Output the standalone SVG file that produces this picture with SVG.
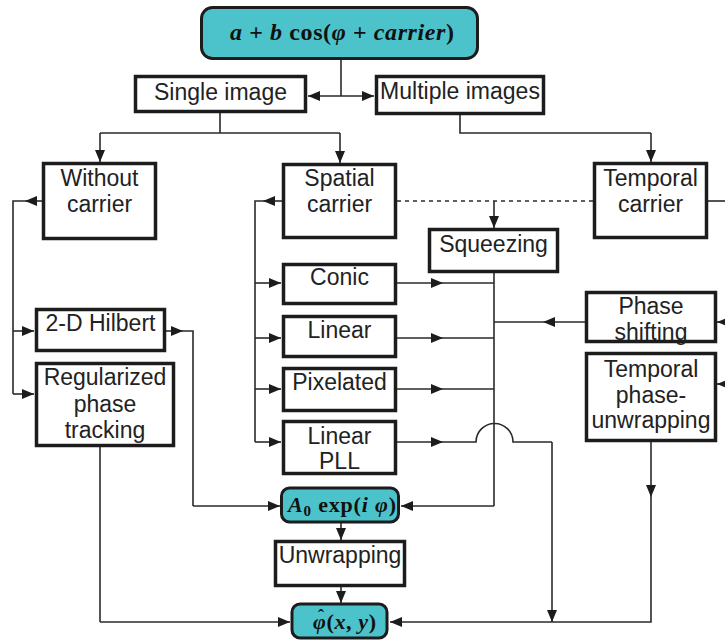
<svg xmlns="http://www.w3.org/2000/svg" width="725" height="641" viewBox="0 0 725 641">
<style>
.box{fill:#fff;stroke:#1c1c1c;stroke-width:3.5}
.tbox{fill:#4cc2ca;stroke:#1c1c1c;stroke-width:3}
.t{font-family:"Liberation Sans",Arial,sans-serif;font-size:23px;fill:#222;text-anchor:middle}
.m{font-family:"Liberation Serif","Times New Roman",serif;font-weight:bold;fill:#111;text-anchor:middle}
.i{font-style:italic}
.ln{fill:none;stroke:#2a2a2a;stroke-width:1.6}
.a{fill:none;stroke:#2a2a2a;stroke-width:1.6;marker-end:url(#ah)}
.dot{fill:none;stroke:#2a2a2a;stroke-width:1.6;stroke-dasharray:4 4}
</style>
<defs>
<marker id="ah" markerUnits="userSpaceOnUse" markerWidth="12" markerHeight="10" refX="12" refY="5" orient="auto">
<path d="M0,0 L12,5 L0,10 z" fill="#1c1c1c"/>
</marker>
</defs>
<rect width="725" height="641" fill="#fff"/>

<g id="connectors">
<path class="ln" d="M341,60 V96"/>
<path class="a" d="M341,96 H308"/>
<path class="a" d="M341,96 H374"/>
<path class="ln" d="M220,113 V133 M100,133 H340"/>
<path class="a" d="M100,133 V162"/>
<path class="a" d="M340,133 V163"/>
<path class="ln" d="M460,115 V133 H651"/>
<path class="a" d="M651,133 V162"/>
<path class="a" d="M42,201 H25"/>
<path class="ln" d="M25,201 H13 V394"/>
<path class="a" d="M13,331 H34"/>
<path class="a" d="M13,394 H34"/>
<path class="a" d="M166,331 H183"/>
<path class="ln" d="M183,331 H193 V506"/>
<path class="a" d="M193,506 H280"/>
<path class="ln" d="M100,447 V622"/>
<path class="a" d="M100,622 H290"/>
<path class="a" d="M282,201 H263"/>
<path class="ln" d="M263,201 H255 V442"/>
<path class="a" d="M255,283 H281"/>
<path class="a" d="M255,338 H281"/>
<path class="a" d="M255,389 H281"/>
<path class="a" d="M255,442 H281"/>
<path class="a" d="M397,283 H443"/>
<path class="ln" d="M443,283 H494"/>
<path class="a" d="M397,338 H443"/>
<path class="ln" d="M443,338 H494"/>
<path class="a" d="M397,389 H443"/>
<path class="ln" d="M443,389 H494"/>
<path class="a" d="M397,442 H443"/>
<path class="ln" d="M443,442 H476 A18.5,18.5 0 0 1 513,442 H552"/>
<path class="a" d="M552,442 V622"/>
<path class="dot" d="M397,201 H593"/>
<path class="a" d="M494,201 V228"/>
<path class="ln" d="M494,273 V506"/>
<path class="a" d="M494,506 H401"/>
<path class="a" d="M585,322 H543"/>
<path class="ln" d="M543,322 H494"/>
<path class="ln" d="M708,201 H726"/>
<path class="a" d="M730,322 H717"/>
<path class="a" d="M730,384 H717"/>
<path class="a" d="M651,442 V497"/>
<path class="ln" d="M651,497 V622 H552"/>
<path class="a" d="M552,622 H390"/>
<path class="a" d="M341,523 V540"/>
<path class="a" d="M341,587 V603"/>
</g>

<g id="n-top"><rect class="tbox" x="201.5" y="7.5" width="276" height="51" rx="11"/>
<text class="m" x="342" y="40" font-size="24" textLength="224" lengthAdjust="spacing"><tspan class="i">a</tspan> + <tspan class="i">b</tspan> cos(<tspan class="i">φ</tspan> + <tspan class="i">carrier</tspan>)</text></g>
<g id="n-single"><rect class="box" x="135.5" y="76.5" width="170" height="35"/><text class="t" x="220.5" y="100">Single image</text></g>
<g id="n-multiple"><rect class="box" x="376.5" y="76.5" width="167" height="37"/><text class="t" x="460" y="99">Multiple images</text></g>
<g id="n-without"><rect class="box" x="43.5" y="163.5" width="112" height="75"/><text class="t" x="99.5" y="186">Without</text><text class="t" x="99.5" y="212">carrier</text></g>
<g id="n-spatial"><rect class="box" x="283.5" y="164.5" width="112" height="73"/><text class="t" x="339.5" y="186">Spatial</text><text class="t" x="339.5" y="212">carrier</text></g>
<g id="n-temporal"><rect class="box" x="594.5" y="163.5" width="112" height="74"/><text class="t" x="650.5" y="186">Temporal</text><text class="t" x="650.5" y="212">carrier</text></g>
<g id="n-squeezing"><rect class="box" x="429.5" y="229.5" width="128" height="42"/><text class="t" x="493.5" y="252">Squeezing</text></g>
<g id="n-conic"><rect class="box" x="283.5" y="264.5" width="112" height="39"/><text class="t" x="339.5" y="285">Conic</text></g>
<g id="n-linear"><rect class="box" x="283.5" y="316.5" width="112" height="40"/><text class="t" x="339.5" y="338">Linear</text></g>
<g id="n-pixelated"><rect class="box" x="283.5" y="368.5" width="112" height="42"/><text class="t" x="339.5" y="390">Pixelated</text></g>
<g id="n-linearpll"><rect class="box" x="283.5" y="421.5" width="112" height="52"/><text class="t" x="339.5" y="444">Linear</text><text class="t" x="339.5" y="469">PLL</text></g>
<g id="n-hilbert"><rect class="box" x="36.5" y="309.5" width="128" height="41"/><text class="t" x="100.5" y="331">2-D Hilbert</text></g>
<g id="n-regularized"><rect class="box" x="36.5" y="363.5" width="137" height="82"/><text class="t" x="105" y="385">Regularized</text><text class="t" x="105" y="412">phase</text><text class="t" x="105" y="438">tracking</text></g>
<g id="n-phaseshift"><rect class="box" x="586.5" y="292.5" width="129" height="49"/><text class="t" x="651" y="314">Phase</text><text class="t" x="651" y="340">shifting</text></g>
<g id="n-tpu"><rect class="box" x="586.5" y="353.5" width="129" height="87"/><text class="t" x="651" y="377">Temporal</text><text class="t" x="651" y="403">phase-</text><text class="t" x="651" y="428">unwrapping</text></g>
<g id="n-a0"><rect class="tbox" x="281.5" y="488" width="117" height="34" rx="8"/>
<text class="m" x="342" y="512" font-size="22" textLength="108" lengthAdjust="spacing"><tspan class="i">A</tspan><tspan font-size="15" dy="4">0</tspan><tspan dy="-4"> exp(</tspan><tspan class="i">i φ</tspan>)</text></g>
<g id="n-unwrapping"><rect class="box" x="275.5" y="541.5" width="129" height="44"/><text class="t" x="340" y="563">Unwrapping</text></g>
<g id="n-phi"><rect class="tbox" x="292" y="604" width="95" height="34" rx="8"/>
<text class="m" x="313" y="629" font-size="22" style="text-anchor:start" textLength="63" lengthAdjust="spacing"><tspan class="i">φ</tspan>(<tspan class="i">x</tspan>, <tspan class="i">y</tspan>)</text>
<text class="m" x="321" y="622" font-size="18">ˆ</text></g>
</svg>
